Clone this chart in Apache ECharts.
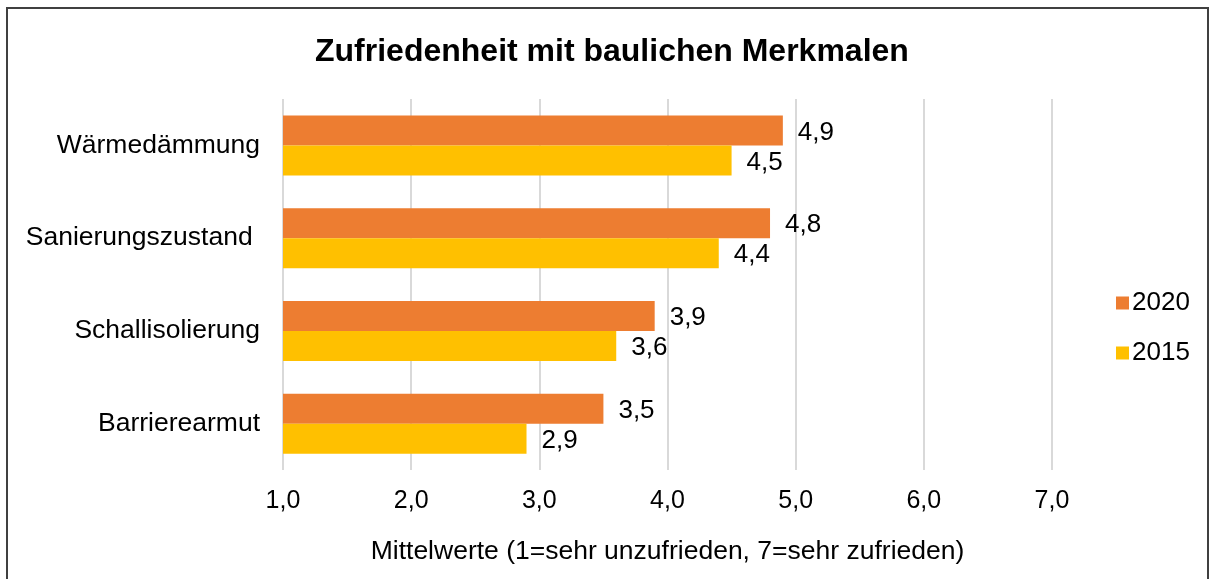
<!DOCTYPE html>
<html>
<head>
<meta charset="utf-8">
<title>Zufriedenheit mit baulichen Merkmalen</title>
<script src="https://cdn.jsdelivr.net/npm/echarts@6/dist/echarts.min.js"></script>
<style>
  html, body { margin: 0; padding: 0; background: #fff; }
  #chart { width: 1212px; height: 579px; }
</style>
</head>
<body>
<div id="chart"></div>
<script>
// data
const categories = ['Wärmedämmung', 'Sanierungszustand ', 'Schallisolierung', 'Barrierearmut'];
const values2020 = [4.9, 4.8, 3.9, 3.5];
const values2015 = [4.5, 4.4, 3.6, 2.9];
const seriesNames = ['2020', '2015'];

const FONT = 'Liberation Sans, Arial, sans-serif';
const fmt = v => v.toFixed(1).replace('.', ',');

let myChart = echarts.init(document.getElementById('chart'));
let option = {
    animation: false,
    textStyle: { fontFamily: FONT },
    title: {
        text: 'Zufriedenheit mit baulichen Merkmalen',
        left: 315,
        top: 36,
        padding: 0,
        textStyle: { fontFamily: FONT, fontSize: 32, fontWeight: 'bold', color: '#000' }
    },
    legend: {
        data: seriesNames,
        orient: 'vertical',
        left: 1111,
        top: 285,
        itemWidth: 13,
        itemHeight: 13,
        itemGap: 24,
        icon: 'rect',
        textStyle: { fontSize: 26, color: '#000', padding: [0, 0, 0, -2] }
    },
    grid: { left: 283, right: 160, top: 99, bottom: 109 },
    xAxis: {
        type: 'value',
        min: 1,
        max: 7,
        interval: 1,
        name: 'Mittelwerte (1=sehr unzufrieden, 7=sehr zufrieden)',
        nameLocation: 'middle',
        nameGap: 68,
        nameTextStyle: { fontSize: 26.5, color: '#000' },
        axisLine: { show: false },
        axisTick: { show: false },
        axisLabel: { fontSize: 25, color: '#000', margin: 19, formatter: fmt },
        splitLine: { lineStyle: { color: '#d9d9d9', width: 2 } }
    },
    yAxis: {
        type: 'category',
        inverse: true,
        data: categories,
        axisLine: { show: false },
        axisTick: { show: false },
        axisLabel: { fontSize: 26.5, color: '#000', margin: 23 }
    },
    series: [
        {
            name: '2020',
            type: 'bar',
            data: values2020,
            barWidth: 30,
            barGap: '0%',
            itemStyle: { color: '#ED7D31' },
            label: { show: true, position: 'right', distance: 15, offset: [0, 2], fontSize: 26, color: '#000', formatter: p => fmt(p.value) }
        },
        {
            name: '2015',
            type: 'bar',
            data: values2015,
            barWidth: 30,
            barGap: '0%',
            itemStyle: { color: '#FFC000' },
            label: { show: true, position: 'right', distance: 15, offset: [0, 2], fontSize: 26, color: '#000', formatter: p => fmt(p.value) }
        }
    ],
    graphic: [
        {
            type: 'rect',
            silent: true,
            shape: { x: 7, y: 8, width: 1201, height: 600 },
            style: { fill: 'none', stroke: '#404040', lineWidth: 2 }
        }
    ]
};
option && myChart.setOption(option);
</script>
</body>
</html>
